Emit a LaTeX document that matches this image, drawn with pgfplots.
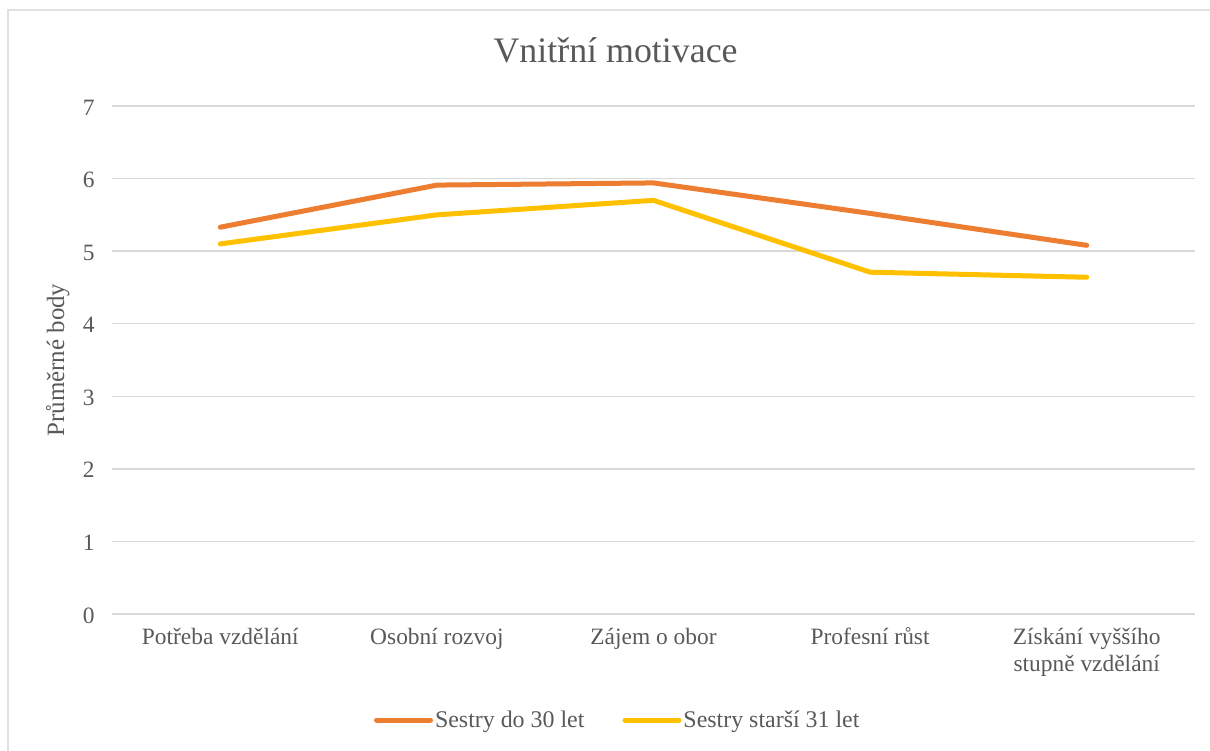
\documentclass[border=0pt]{standalone}
\usepackage{fontspec}
\setmainfont{Liberation Serif}
\usepackage{pgfplots}
\pgfplotsset{compat=1.18}
\definecolor{cOrange}{HTML}{ED7D31}
\definecolor{cYellow}{HTML}{FFC000}
\definecolor{cGrid}{HTML}{D9D9D9}
\definecolor{cText}{HTML}{595959}
\begin{document}
\begin{tikzpicture}[x=1bp,y=1bp]
\path[use as bounding box] (0,0) rectangle (1210,751);
\draw[cGrid!80, line width=2bp] (8,0) -- (8,741) -- (1210,741);
\begin{axis}[
  at={(112bp,137bp)}, anchor=south west,
  scale only axis, width=1083bp, height=508bp,
  xmin=-0.5, xmax=4.5, ymin=0, ymax=7,
  xtick={0,1,2,3,4},
  xticklabels={Potřeba vzdělání, Osobní rozvoj, Zájem o obor, Profesní růst, {Získání vyššího\\stupně vzdělání}},
  ytick={0,1,...,7},
  /pgf/number format/assume math mode=true,
  axis line style={draw=none},
  tick style={draw=none},
  major tick length=0pt,
  ymajorgrids, grid style={cGrid, line width=1.5bp},
  tick label style={font=\fontsize{23.5}{28}\selectfont, text=cText},
  xticklabel style={anchor=north, align=center, yshift=-7bp},
  typeset ticklabels with strut,
  yticklabel style={anchor=east, xshift=-14bp, yshift=-3.5bp},
  ylabel={Průměrné body},
  ylabel style={at={(axis description cs:-0.05,0.5)}, anchor=center, rotate=0, font=\fontsize{25}{30}\selectfont, text=cText},
  title={Vnitřní motivace},
  title style={at={(axis description cs:0.465,1)}, anchor=base, yshift=38bp, font=\fontsize{36}{42}\selectfont, text=cText},
  legend columns=2,
  legend style={at={(axis description cs:0.467,-0.2087)}, anchor=center, draw=none, fill=none,
    font=\fontsize{24}{28}\selectfont, text=cText,
    /tikz/every even column/.append style={column sep=36bp},
    nodes={inner sep=2bp}},
  legend image code/.code={\draw[#1, line cap=round] (0bp,0bp) -- (54bp,0bp);},
]
\addplot[cOrange, line width=5bp, line cap=round, line join=round] coordinates {
  (0,5.33) (1,5.91) (2,5.94) (3,5.52) (4,5.08)};
\addlegendentry{Sestry do 30 let}
\addplot[cYellow, line width=5bp, line cap=round, line join=round] coordinates {
  (0,5.10) (1,5.50) (2,5.70) (3,4.71) (4,4.64)};
\addlegendentry{Sestry starší 31 let}
\end{axis}
\end{tikzpicture}
\end{document}
